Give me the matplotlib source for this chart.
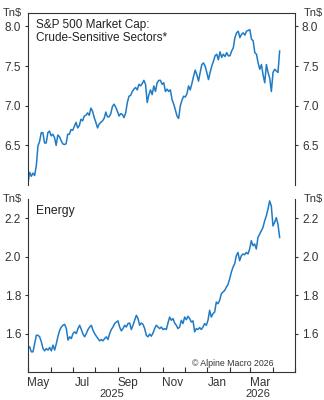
import matplotlib
matplotlib.use('Agg')
import matplotlib.pyplot as plt
import matplotlib.dates as mdates
import numpy as np
import pandas as pd

plt.rcParams['font.family'] = ['Liberation Sans', 'DejaVu Sans']

# market cap, Tn$, sampled roughly every 2-3 days from 2025-05-01 to 2026-04-10
crude = [6.03, 6.16, 6.11, 6.15, 6.12, 6.24, 6.49, 6.55, 6.66, 6.66,
         6.53, 6.53, 6.66, 6.68, 6.62, 6.64, 6.60, 6.50, 6.63, 6.61,
         6.56, 6.52, 6.51, 6.52, 6.64, 6.64, 6.70, 6.69, 6.74, 6.79,
         6.72, 6.75, 6.83, 6.81, 6.87, 6.88, 6.91, 6.88, 6.97, 6.93,
         6.85, 6.79, 6.72, 6.77, 6.79, 6.81, 6.84, 6.92, 6.86, 6.86,
         6.90, 6.99, 7.02, 6.98, 6.93, 6.87, 6.90, 6.89, 6.85, 6.91,
         7.04, 7.12, 7.13, 7.18, 7.21, 7.23, 7.20, 7.27, 7.25, 7.28,
         7.32, 7.27, 7.04, 7.14, 7.20, 7.14, 7.25, 7.18, 7.29, 7.32,
         7.32, 7.27, 7.29, 7.18, 7.21, 7.18, 7.20, 7.08, 7.02, 6.95,
         6.87, 6.84, 7.00, 7.07, 7.12, 7.11, 7.15, 7.25, 7.20, 7.28,
         7.37, 7.45, 7.39, 7.31, 7.42, 7.52, 7.54, 7.50, 7.42, 7.33,
         7.42, 7.50, 7.56, 7.63, 7.65, 7.58, 7.68, 7.61, 7.65, 7.62,
         7.67, 7.63, 7.63, 7.69, 7.73, 7.86, 7.92, 7.94, 7.86, 7.90,
         7.92, 7.89, 7.94, 7.95, 7.96, 7.84, 7.82, 7.67, 7.65, 7.54,
         7.46, 7.52, 7.39, 7.29, 7.52, 7.42, 7.35, 7.18, 7.42, 7.46,
         7.44, 7.42, 7.69]

energy = [1.522, 1.531, 1.505, 1.505, 1.548, 1.591, 1.591, 1.583, 1.557, 1.522,
          1.510, 1.522, 1.514, 1.528, 1.510, 1.540, 1.514, 1.548, 1.586, 1.617,
          1.634, 1.643, 1.648, 1.626, 1.566, 1.583, 1.574, 1.600, 1.609, 1.600,
          1.626, 1.643, 1.621, 1.597, 1.583, 1.600, 1.621, 1.634, 1.643, 1.617,
          1.600, 1.586, 1.574, 1.562, 1.569, 1.562, 1.574, 1.583, 1.569, 1.600,
          1.621, 1.634, 1.652, 1.660, 1.666, 1.634, 1.614, 1.626, 1.643, 1.634,
          1.652, 1.655, 1.621, 1.643, 1.669, 1.695, 1.678, 1.643, 1.655, 1.648,
          1.626, 1.591, 1.583, 1.597, 1.586, 1.603, 1.626, 1.643, 1.634, 1.626,
          1.634, 1.621, 1.626, 1.621, 1.655, 1.686, 1.669, 1.678, 1.655, 1.643,
          1.626, 1.634, 1.669, 1.652, 1.686, 1.672, 1.690, 1.678, 1.660, 1.666,
          1.609, 1.626, 1.621, 1.631, 1.621, 1.634, 1.652, 1.643, 1.669, 1.721,
          1.686, 1.703, 1.712, 1.764, 1.755, 1.772, 1.807, 1.816, 1.824, 1.841,
          1.855, 1.884, 1.919, 1.945, 1.962, 2.005, 2.022, 1.979, 2.005, 2.014,
          2.010, 2.022, 2.014, 2.040, 2.083, 2.057, 2.066, 2.040, 2.100, 2.117,
          2.134, 2.152, 2.186, 2.212, 2.247, 2.290, 2.264, 2.160, 2.178, 2.203,
          2.169, 2.100]

crude_ticks = [6.5, 7.0, 7.5, 8.0]
energy_ticks = [1.6, 1.8, 2.0, 2.2]
month_labels = ['2025-05-15', '2025-07-15', '2025-09-15', '2025-11-15',
                '2026-01-15', '2026-03-15']
years = {'2025': '2025-08-24', '2026': '2026-03-11'}

d_crude = pd.date_range('2025-05-01', '2026-04-10', periods=len(crude))
d_energy = pd.date_range('2025-05-01', '2026-04-10', periods=len(energy))

blue = '#1f7bc6'
grey = '#333333'
xmin, xmax = pd.Timestamp('2025-05-01'), pd.Timestamp('2026-05-01')

fig = plt.figure(figsize=(3.24, 4.0), dpi=100)
ax1 = fig.add_axes([28/324, 1-185/400, 267/324, 172/400])
ax2 = fig.add_axes([28/324, 1-372/400, 267/324, 173/400])

ax1.plot(d_crude, crude, color=blue, lw=1.1)
ax2.plot(d_energy, energy, color=blue, lw=1.1)

ax1.set_ylim(6.0, 8.17)
ax1.set_yticks(crude_ticks)
ax1.set_yticklabels(['%.1f' % t for t in crude_ticks])
ax2.set_ylim(1.4, 2.3)
ax2.set_yticks(energy_ticks)
ax2.set_yticklabels(['%.1f' % t for t in energy_ticks])

for ax in (ax1, ax2):
    ax.set_xlim(xmin, xmax)
    for s in ax.spines.values():
        s.set_color(grey)
        s.set_linewidth(0.8)
    ax.tick_params(axis='y', left=True, right=True, labelleft=True, labelright=True,
                   direction='out', length=2.5, width=0.8, pad=2.5,
                   labelsize=8.5, colors=grey)
    ax.text(-0.06, 1.0, 'Tn$', transform=ax.transAxes, fontsize=8,
            color=grey, ha='center', va='center')
    ax.text(1.07, 1.0, 'Tn$', transform=ax.transAxes, fontsize=8,
            color=grey, ha='center', va='center')

ax1.spines['bottom'].set_visible(False)
ax1.tick_params(axis='x', bottom=False, labelbottom=False)
ax2.spines['top'].set_visible(False)

# month boundaries as inward ticks, labels centred mid-month
ax2.xaxis.set_major_locator(mdates.MonthLocator())
ax2.xaxis.set_major_formatter(plt.NullFormatter())
ax2.set_xticks(pd.to_datetime(month_labels), minor=True)
ax2.xaxis.set_minor_formatter(mdates.DateFormatter('%b'))
ax2.tick_params(axis='x', which='major', direction='in', length=3.5, width=0.8,
                color=grey)
ax2.tick_params(axis='x', which='minor', length=0, pad=3.5, labelsize=8.5,
                labelcolor=grey)

for yr, d in years.items():
    ax2.text(pd.Timestamp(d), -0.13, yr, transform=ax2.get_xaxis_transform(),
             fontsize=8, color=grey, ha='center', va='center')

ax1.text(0.03, 0.965, 'S&P 500 Market Cap:\nCrude-Sensitive Sectors*',
         transform=ax1.transAxes, fontsize=8.5, color='#222222',
         ha='left', va='top', linespacing=1.15)
ax2.text(0.03, 0.965, 'Energy', transform=ax2.transAxes, fontsize=8.7,
         color='#222222', ha='left', va='top')
ax2.text(0.92, 0.05, '\u00a9 Alpine Macro 2026', transform=ax2.transAxes,
         fontsize=6.3, color=grey, ha='right', va='center')

fig.savefig('out.png', dpi=100)
